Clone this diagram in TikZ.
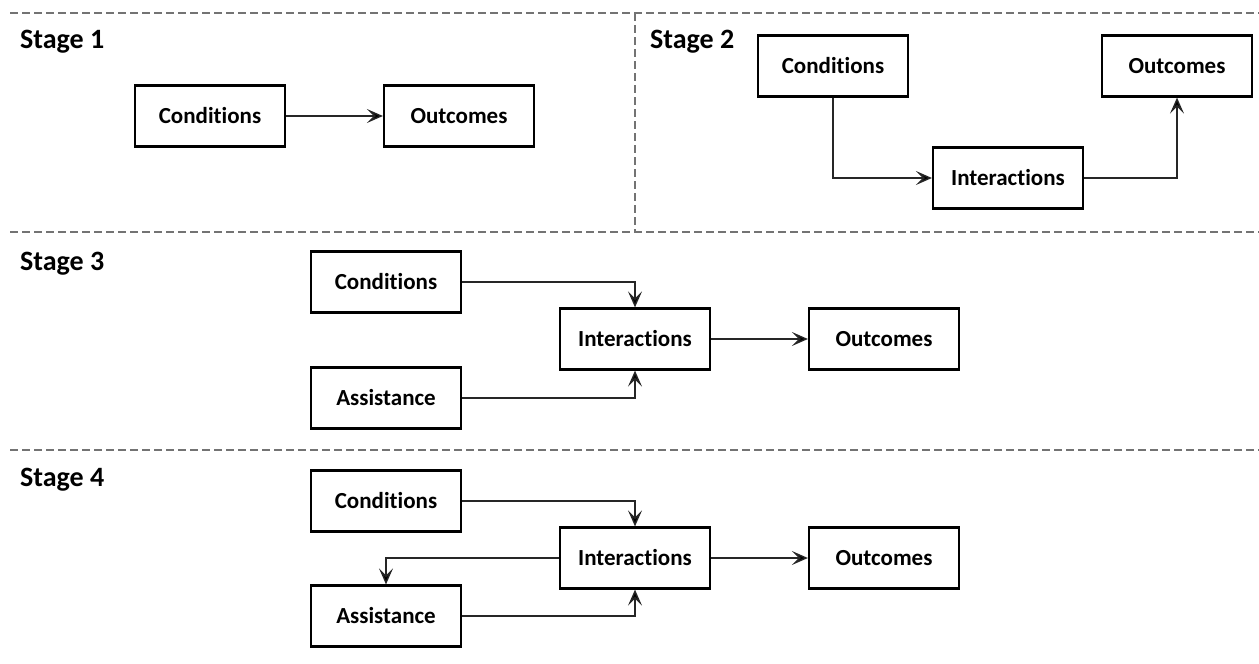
\documentclass[tikz,border=0pt]{standalone}
\usepackage{fontspec}
\setmainfont[Ligatures=NoCommon]{Carlito}
\usetikzlibrary{arrows.meta}
\begin{document}
\begin{tikzpicture}[x=1pt,y=-1pt,
  box/.style={draw=black, line width=2.2pt, minimum width=150pt, minimum height=61pt,
    inner sep=0pt, font=\fontsize{23}{26}\selectfont\bfseries},
  lbl/.style={anchor=west, inner sep=0pt, font=\fontsize{28}{32}\selectfont\bfseries},
  conn/.style={draw=black!85, line width=1.4pt, -{Stealth[length=16pt,width=14pt,inset=7pt,fill=black]}},
  sep/.style={draw=black!55, line width=1.5pt, dash pattern=on 8pt off 4pt}]
  \fill[white] (0,0) rectangle (1259,664);
  \useasboundingbox (0,0) rectangle (1259,664);

  % panel separators
  \draw[sep] (10,13) -- (1259,13);
  \draw[sep] (635,13) -- (635,232);
  \draw[sep] (10,232) -- (1259,232);
  \draw[sep] (10,450) -- (1259,450);

  % stage titles
  \node[lbl] (s1) at (20,42) {Stage 1};
  \node[lbl] (s2) at (650,42) {Stage 2};
  \node[lbl] (s3) at (20,264) {Stage 3};
  \node[lbl] (s4) at (20,480) {Stage 4};

  % Stage 1
  \node[box] (c1) at (210,116) {Conditions};
  \node[box] (o1) at (459,116) {Outcomes};
  \draw[conn] (c1) -- (o1);

  % Stage 2
  \node[box] (c2) at (833,66) {Conditions};
  \node[box] (o2) at (1177,66) {Outcomes};
  \node[box] (i2) at (1008,178) {Interactions};
  \draw[conn] (c2.south) |- (i2.west);
  \draw[conn] (i2.east) -| (o2.south);

  % Stage 3
  \node[box] (c3) at (386,282) {Conditions};
  \node[box] (a3) at (386,398) {Assistance};
  \node[box] (i3) at (635,339) {Interactions};
  \node[box] (o3) at (884,339) {Outcomes};
  \draw[conn] (c3.east) -| (i3.north);
  \draw[conn] (a3.east) -| (i3.south);
  \draw[conn] (i3) -- (o3);

  % Stage 4
  \node[box] (c4) at (386,501) {Conditions};
  \node[box] (i4) at (635,558) {Interactions};
  \node[box] (a4) at (386,616) {Assistance};
  \node[box] (o4) at (884,558) {Outcomes};
  \draw[conn] (c4.east) -| (i4.north);
  \draw[conn] (i4.west) -| (a4.north);
  \draw[conn] (a4.east) -| (i4.south);
  \draw[conn] (i4) -- (o4);
\end{tikzpicture}
\end{document}
